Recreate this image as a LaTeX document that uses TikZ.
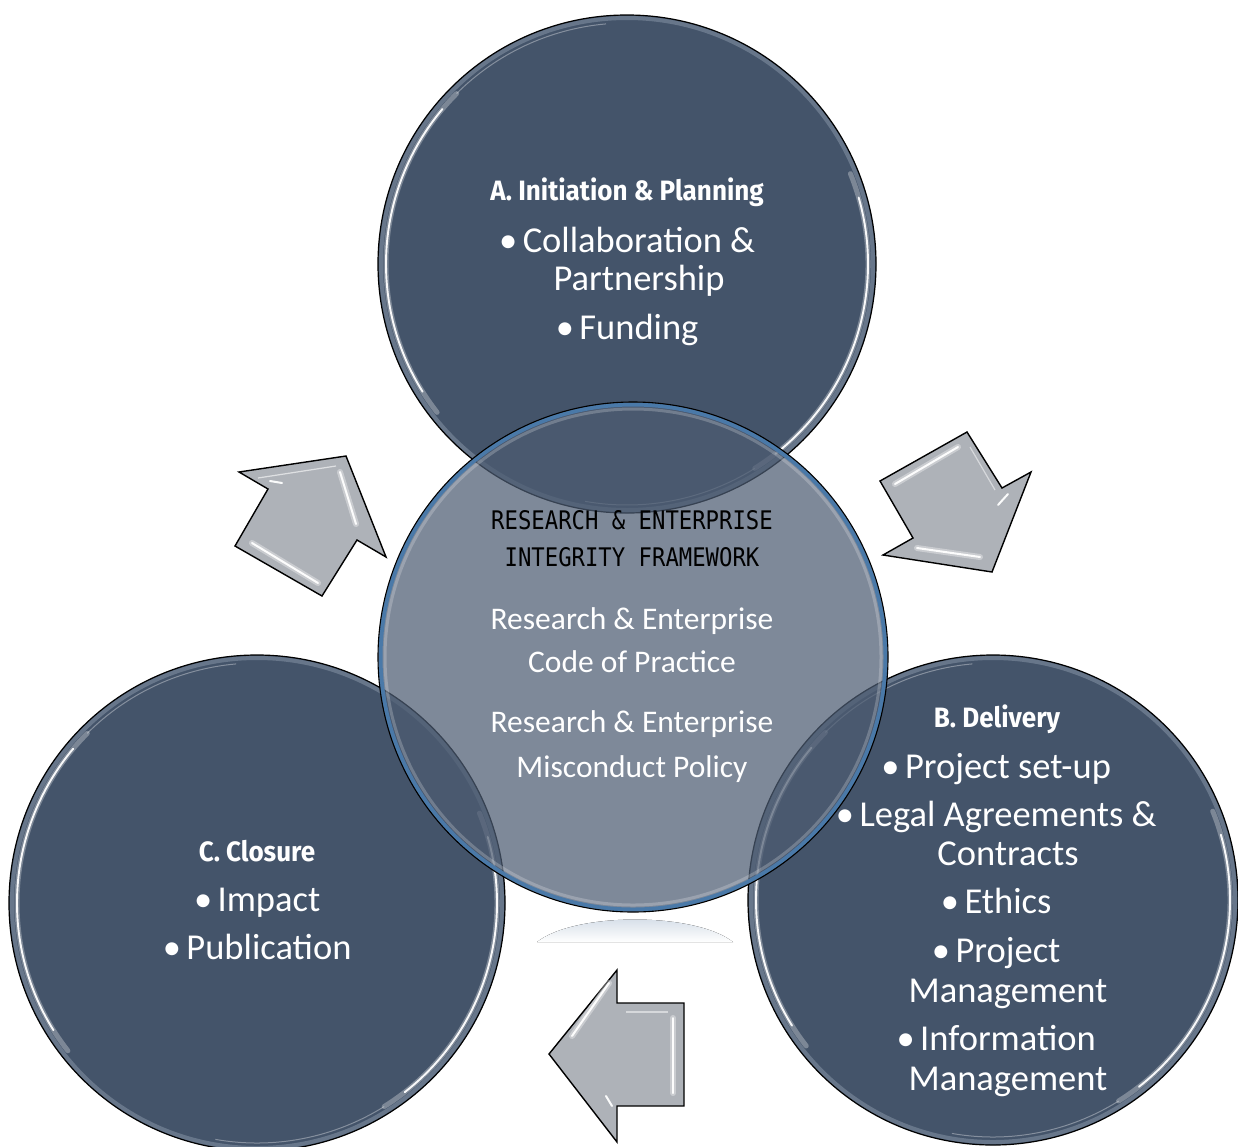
\documentclass[tikz,border=0pt]{standalone}
\usepackage{fontspec}
\setmainfont{Carlito}
\newfontfamily\headfont[FakeStretch=0.93]{Fira Sans}
\newfontfamily\fwfont[FakeStretch=0.87]{DejaVu Sans Mono}
\definecolor{navy}{HTML}{44546A}
\definecolor{centerfill}{HTML}{4D5C72}
\definecolor{rimblue}{HTML}{4A79A8}
\definecolor{rimgray}{HTML}{8593A5}
\definecolor{arrowgray}{HTML}{AEB2B8}
\definecolor{reflblue}{HTML}{CBD6E2}
\newcommand\bul{\llap{•\hspace{0.15em}}}
\tikzset{
  phase/.style={circle, fill=navy, draw=black, line width=1.2pt, inner sep=0pt, outer sep=0pt},
  hub/.style={circle, fill=centerfill, fill opacity=0.72, draw=none, inner sep=0pt, outer sep=0pt},
  shine/.style={white, line width=1.9pt, opacity=0.95, line cap=round},
  halo/.style={white, line width=5pt, opacity=0.3, line cap=round},
  rim/.style={color=rimgray, line width=4pt, opacity=0.55},
  blockarrow/.style={fill=arrowgray, draw=black, line width=1.4pt, line join=miter},
  glint/.style={white, line width=2pt, opacity=0.95, line cap=round},
  glinthalo/.style={white, line width=6pt, opacity=0.35, line cap=round},
  headtxt/.style={text=white, font=\headfont\bfseries\fontsize{28}{32}\selectfont, anchor=base, inner sep=0pt},
  bodytxt/.style={text=white, font=\fontsize{36.5}{40}\selectfont, anchor=base, inner sep=0pt},
  hubtxt/.style={text=white, font=\fontsize{31.5}{36}\selectfont, anchor=base, inner sep=0pt},
  fwtxt/.style={text=black, font=\fwfont\fontsize{25.6}{30}\selectfont, anchor=base, inner sep=0pt}
}
\begin{document}
\begin{tikzpicture}[x=1pt,y=-1pt]
\useasboundingbox (0,0) rectangle (1238,1146);
\fill[white] (0,0) rectangle (1238,1146);
\clip (0,0) rectangle (1238,1146);

% phase circles
\node[phase, minimum size=498pt] (A) at (627,264) {};
\node[phase, minimum size=496pt] (C) at (257,903) {};
\node[phase, minimum size=490pt] (B) at (993,900) {};

\foreach \c/\R/\r in {A/246/241, C/245/240, B/242/237}{
  \draw[rim] (\c.center) circle (\R pt);
  \draw[halo] (\c.center) ++(135:\r pt) arc[start angle=135, end angle=218, radius=\r pt];
  \draw[halo] (\c.center) ++(-58:\r pt) arc[start angle=-58, end angle=22, radius=\r pt];
  \draw[shine] (\c.center) ++(140:\r pt) arc[start angle=140, end angle=212, radius=\r pt];
  \draw[shine] (\c.center) ++(-52:\r pt) arc[start angle=-52, end angle=16, radius=\r pt];
  \draw[white, line width=1pt, opacity=0.35] (\c.center) ++(95:\r pt) arc[start angle=95, end angle=135, radius=\r pt];
  \draw[white, line width=1pt, opacity=0.35] (\c.center) ++(-100:\r pt) arc[start angle=-100, end angle=-58, radius=\r pt];
}

% central hub circle (semi-transparent)
\node[hub, minimum size=510pt] (F) at (633,657) {};
\draw[color=rimblue, line width=4pt] (F.center) circle (252.5pt);
\draw[color=white, line width=3pt, opacity=0.22] (F.center) circle (248pt);
\draw[black, line width=1.1pt] (F.center) circle (255pt);

% reflection under the hub
\fill[top color=reflblue, bottom color=white] (537,942) .. controls (575,912) and (695,912) .. (733,942) -- cycle;

% arrow: up-right (C -> A)
\draw[blockarrow] (346,456) -- (386,557) -- (357,540) -- (322,596) -- (235,546) -- (268,489) -- (239,472) -- cycle;
\draw[glinthalo] (340,472) -- (356,524);
\draw[glint] (340,472) -- (356,524);
\draw[glinthalo] (252,543) -- (318,583);
\draw[glint] (252,543) -- (318,583);
\draw[glint] (270,481) -- (282,483);
\draw[white, line width=1.2pt, opacity=0.6] (258,478) -- (336,466);

% arrow: down-right (A -> B)
\draw[blockarrow] (880,481) -- (967,432) -- (1002,488) -- (1031,472) -- (992,572) -- (883,555) -- (913,538) -- cycle;
\draw[glinthalo] (895,484) -- (958,447);
\draw[glint] (895,484) -- (958,447);
\draw[glinthalo] (917,548) -- (980,557);
\draw[glint] (917,548) -- (980,557);
\draw[glint] (998,505) -- (1008,494);
\draw[white, line width=1.2pt, opacity=0.5] (970,447) -- (995,490);

% arrow: left (B -> C)
\draw[blockarrow] (617,970) -- (617,1003) -- (684,1003) -- (684,1106) -- (617,1106) -- (617,1142) -- (549,1054) -- cycle;
\draw[glinthalo] (609,983) -- (572,1036);
\draw[glint] (609,983) -- (572,1036);
\draw[glinthalo] (673,1018) -- (673,1093);
\draw[glint] (673,1018) -- (673,1093);
\draw[glint] (606,1096) -- (612,1106);
\draw[white, line width=1.2pt, opacity=0.5] (626,1012) -- (668,1012);

% texts: A
\node[headtxt] (Ah) at (627,200) {A. Initiation \& Planning};
\node[bodytxt] (A1) at (639,252) {\bul Collaboration \&};
\node[bodytxt] (A1b) at (639,290) {Partnership};
\node[bodytxt] (A2) at (639,339) {\bul Funding};

% texts: B
\node[headtxt] (Bh) at (997,727) {B. Delivery};
\node[bodytxt] (B1) at (1008,778) {\bul Project set-up};
\node[bodytxt] (B2) at (1008,826) {\bul Legal Agreements \&};
\node[bodytxt] (B2b) at (1008,865) {Contracts};
\node[bodytxt] (B3) at (1008,913) {\bul Ethics};
\node[bodytxt] (B4) at (1008,962) {\bul Project};
\node[bodytxt] (B4b) at (1008,1002) {Management};
\node[bodytxt] (B5) at (1008,1050) {\bul Information};
\node[bodytxt] (B5b) at (1008,1090) {Management};

% texts: C
\node[headtxt] (Ch) at (257,861) {C. Closure};
\node[bodytxt] (C1) at (269,911) {\bul Impact};
\node[bodytxt] (C2) at (269,959) {\bul Publication};

% texts: hub
\node[fwtxt] (F1) at (632,529) {RESEARCH \& ENTERPRISE};
\node[fwtxt] (F2) at (632,566) {INTEGRITY FRAMEWORK};
\node[hubtxt] (F3) at (632,629) {Research \& Enterprise};
\node[hubtxt] (F3b) at (632,672) {Code of Practice};
\node[hubtxt] (F4) at (632,732) {Research \& Enterprise};
\node[hubtxt] (F4b) at (632,777) {Misconduct Policy};
\end{tikzpicture}
\end{document}
